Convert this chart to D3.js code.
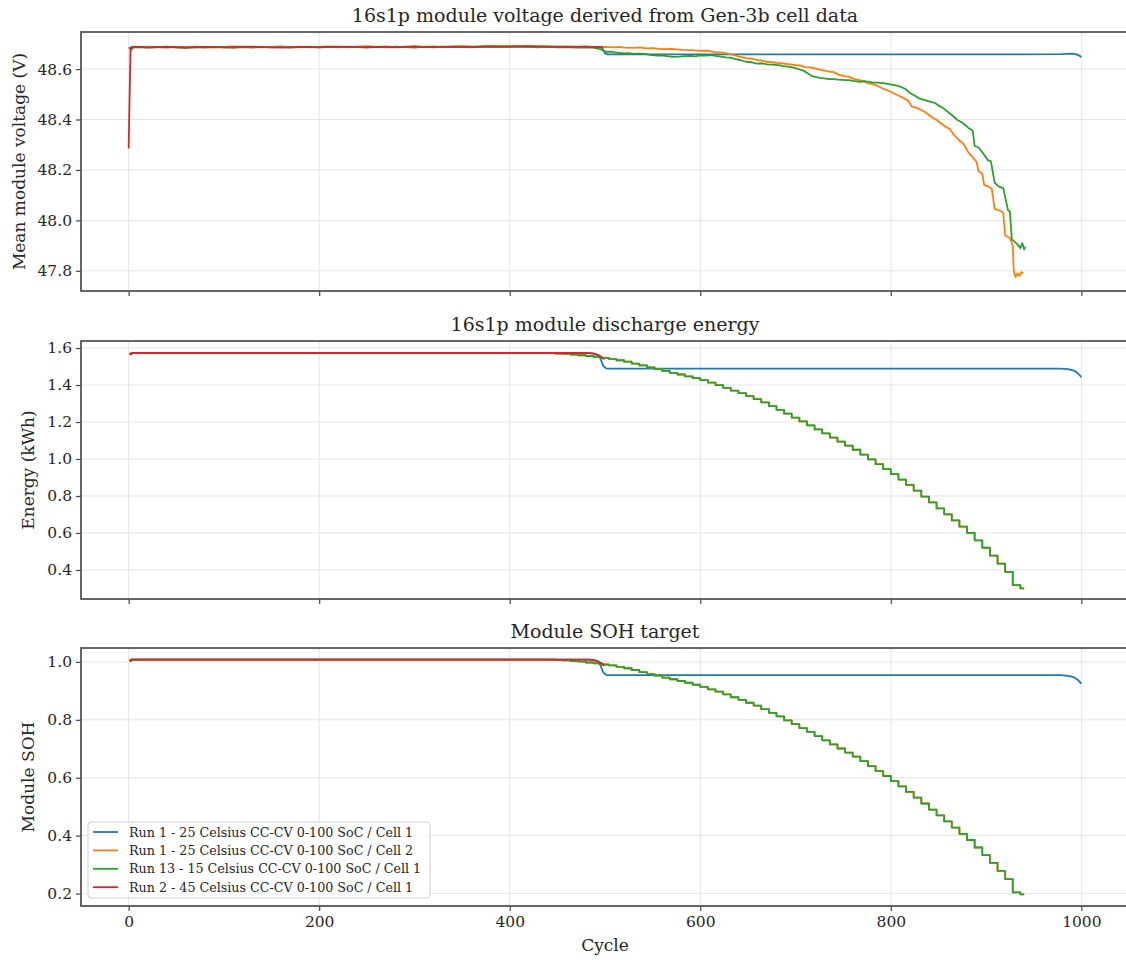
<!DOCTYPE html>
<html>
<head>
<meta charset="utf-8">
<script src="https://cdn.jsdelivr.net/npm/d3@7/dist/d3.min.js"></script>
<style>
  body { margin: 0; background: #fff; }
  svg text { font-family: "DejaVu Serif", serif; fill: #262626; }
</style>
</head>
<body>
<div id="chart"></div>
<script>
// legend names / colours (matplotlib tab10 order)
const seriesNames = [
  'Run 1 - 25 Celsius CC-CV 0-100 SoC / Cell 1',
  'Run 1 - 25 Celsius CC-CV 0-100 SoC / Cell 2',
  'Run 13 - 15 Celsius CC-CV 0-100 SoC / Cell 1',
  'Run 2 - 45 Celsius CC-CV 0-100 SoC / Cell 1'
];
const seriesColors = ['#1f77b4', '#ff7f0e', '#2ca02c', '#d62728'];

const xTicks = [0, 200, 400, 600, 800, 1000];
const voltTicks = [47.8, 48.0, 48.2, 48.4, 48.6];
const energyTicks = [0.4, 0.6, 0.8, 1.0, 1.2, 1.4, 1.6];
const sohTicks = [0.2, 0.4, 0.6, 0.8, 1.0];

// ---- panel 1: mean module voltage [cycle, V]
const voltBlue = [[0,48.682],[3,48.686],[100,48.687],[200,48.687],[300,48.688],[400,48.689],[490,48.688],
  [497,48.685],[500,48.662],[503,48.658],[700,48.658],[900,48.658],[980,48.659],[988,48.661],[994,48.659],
  [998,48.653],[1000,48.648]];

const voltOrange = [[2,48.676],[5,48.688],[10,48.686],[20,48.689],[30,48.687],[40,48.685],[50,48.688],[60,48.686],
  [70,48.689],[80,48.687],[90,48.685],[100,48.688],[110,48.690],[120,48.687],[130,48.689],[140,48.686],[150,48.688],
  [160,48.690],[170,48.687],[180,48.689],[190,48.686],[200,48.688],[210,48.690],[220,48.688],[230,48.686],[240,48.689],
  [250,48.691],[260,48.688],[270,48.690],[280,48.687],[290,48.689],[300,48.691],[310,48.688],[320,48.690],[330,48.687],
  [340,48.689],[350,48.691],[360,48.689],[370,48.690],[380,48.692],[390,48.690],[400,48.692],[410,48.690],[420,48.691],
  [430,48.689],[440,48.690],[450,48.688],[460,48.690],[470,48.688],[480,48.689],[490,48.687],[500,48.688],[510,48.686],
  [515,48.688],[520,48.685],[530,48.684],[537,48.686],[543,48.682],[550,48.683],[560,48.679],[570,48.680],[580,48.676],
  [590,48.675],[600,48.672],[607,48.673],[615,48.667],[622,48.666],[627,48.662],[634,48.657],[640,48.650],[648,48.643],
  [654,48.641],[660,48.635],[665,48.634],[670,48.628],[676,48.627],[682,48.624],[692,48.620],[700,48.616],[705,48.614],
  [710,48.608],[715,48.607],[720,48.603],[728,48.596],[735,48.590],[740,48.588],[745,48.578],[752,48.571],[756,48.570],
  [760,48.562],[768,48.555],[772,48.553],[776,48.543],[780,48.541],[785,48.535],[792,48.522],[798,48.513],[805,48.500],
  [812,48.488],[818,48.475],[822,48.452],[828,48.445],[836,48.430],[842,48.412],[848,48.398],[857,48.372],[862,48.362],
  [866,48.340],[871,48.320],[876,48.305],[881,48.272],[886,48.250],[890,48.232],[892,48.195],[896,48.185],[898,48.140],
  [902,48.135],[906,48.125],[909,48.045],[914,48.040],[918,48.030],[920,47.940],[925,47.930],[928,47.900],[929,47.800],
  [931,47.775],[933,47.790],[935,47.780],[937,47.795],[939,47.790]];

const voltGreen = [[2,48.674],[5,48.686],[10,48.688],[20,48.685],[30,48.687],[40,48.689],[50,48.686],[60,48.684],
  [70,48.687],[80,48.685],[90,48.688],[100,48.686],[110,48.684],[120,48.687],[130,48.685],[140,48.688],[150,48.686],
  [160,48.688],[170,48.685],[180,48.687],[190,48.689],[200,48.686],[210,48.688],[220,48.686],[230,48.689],[240,48.687],
  [250,48.685],[260,48.688],[270,48.686],[280,48.689],[290,48.687],[300,48.685],[310,48.688],[320,48.686],[330,48.689],
  [340,48.687],[350,48.688],[360,48.686],[370,48.689],[380,48.687],[390,48.689],[400,48.688],[410,48.690],[420,48.688],
  [430,48.686],[440,48.688],[450,48.686],[460,48.687],[470,48.685],[480,48.686],[487,48.685],[495,48.679],[501,48.668],
  [506,48.669],[510,48.666],[515,48.664],[520,48.662],[525,48.663],[530,48.660],[537,48.661],[543,48.659],[549,48.655],
  [555,48.653],[560,48.654],[565,48.651],[571,48.648],[578,48.649],[584,48.651],[590,48.652],[595,48.650],[600,48.654],
  [606,48.653],[612,48.655],[616,48.652],[620,48.650],[627,48.646],[631,48.645],[635,48.641],[642,48.636],[648,48.629],
  [654,48.627],[660,48.622],[665,48.623],[670,48.619],[676,48.618],[682,48.616],[687,48.612],[692,48.610],[698,48.606],
  [704,48.599],[708,48.594],[712,48.585],[717,48.572],[721,48.569],[725,48.565],[730,48.563],[735,48.560],[740,48.560],
  [745,48.558],[752,48.556],[756,48.556],[760,48.553],[768,48.549],[772,48.551],[776,48.550],[780,48.547],[785,48.546],
  [792,48.544],[798,48.540],[805,48.535],[810,48.530],[815,48.522],[820,48.505],[825,48.495],[829,48.485],[835,48.478],
  [842,48.470],[846,48.466],[850,48.456],[855,48.445],[860,48.430],[864,48.418],[870,48.398],[876,48.385],[882,48.365],
  [886,48.355],[888,48.295],[892,48.290],[897,48.265],[902,48.238],[905,48.235],[909,48.150],[913,48.135],[918,48.128],
  [923,48.040],[925,48.035],[927,47.925],[930,47.915],[933,47.905],[936,47.890],[938,47.910],[940,47.885],[941,47.895]];

const voltRed = [[0,48.285],[2,48.684],[4,48.689],[20,48.686],[40,48.688],[60,48.685],[80,48.688],[100,48.686],
  [120,48.689],[140,48.687],[160,48.685],[180,48.688],[200,48.686],[220,48.689],[240,48.687],[260,48.688],[280,48.686],
  [300,48.689],[320,48.687],[340,48.689],[360,48.688],[380,48.690],[400,48.689],[420,48.691],[440,48.689],[460,48.688],
  [480,48.689],[498,48.687]];

// ---- panel 2 + 3: smooth traces [cycle, value]
const energyBlue = [[1,1.566],[3,1.572],[486,1.572],[491,1.566],[495,1.545],[498,1.505],[501,1.490],[504,1.489],
  [978,1.489],[986,1.486],[992,1.478],[996,1.465],[1000,1.443]];
const energyRed = [[1,1.566],[3,1.573],[482,1.573],[488,1.570],[493,1.562],[497,1.550],[499,1.538]];
const sohBlue = [[1,1.004],[3,1.008],[486,1.008],[491,1.004],[495,0.990],[498,0.965],[501,0.955],[504,0.954],
  [978,0.954],[986,0.952],[992,0.947],[996,0.939],[1000,0.925]];
const sohRed = [[1,1.004],[3,1.008],[482,1.008],[488,1.006],[493,1.001],[497,0.994],[499,0.986]];

// ---- stepped trace of run 13 (orange run 1 / cell 2 lies under it)
const stepCycles = [1,3,440,448,456,464,472,480,488,496,504,512,520,528,536,544,552,560,568,576,584,592,600,608,
  616,624,632,640,648,656,664,672,680,688,696,704,712,720,728,736,744,752,760,768,776,784,792,800,808,816,824,832,
  840,848,856,864,872,880,888,896,904,912,920,928,936,940];
const energyGreenVals = [1.566,1.572,1.572,1.570,1.568,1.564,1.561,1.557,1.552,1.547,1.541,1.534,1.526,1.516,1.506,
  1.495,1.486,1.476,1.466,1.457,1.447,1.437,1.426,1.413,1.399,1.385,1.370,1.356,1.340,1.324,1.306,1.286,1.266,1.245,
  1.224,1.203,1.182,1.160,1.138,1.116,1.094,1.072,1.050,1.024,0.998,0.972,0.945,0.918,0.889,0.860,0.829,0.797,0.765,
  0.733,0.701,0.668,0.634,0.600,0.560,0.520,0.478,0.434,0.390,0.318,0.300,0.300];
const sohGreenVals = [1.004,1.008,1.008,1.006,1.005,1.003,1.001,0.998,0.995,0.991,0.988,0.983,0.978,0.972,0.965,
  0.958,0.953,0.946,0.940,0.934,0.928,0.921,0.914,0.905,0.897,0.888,0.878,0.869,0.859,0.849,0.837,0.824,0.812,0.798,
  0.785,0.771,0.758,0.744,0.729,0.715,0.701,0.687,0.673,0.657,0.640,0.623,0.606,0.588,0.570,0.551,0.531,0.511,0.490,
  0.470,0.449,0.428,0.406,0.385,0.359,0.333,0.306,0.278,0.250,0.204,0.197,0.197];

const energyGreen = stepCycles.map((c, i) => [c, energyGreenVals[i]]);
const sohGreen = stepCycles.map((c, i) => [c, sohGreenVals[i]]);
const energyOrange = energyGreen;
const sohOrange = sohGreen;

// ---- layout
const W = 1126, H = 960;
const left = 81, right = 1129;

const svg = d3.select('#chart').append('svg')
  .attr('width', W)
  .attr('height', H);

const x = d3.scaleLinear().domain([-50, 1050]).range([left, right]);

const panels = [
  { title: '16s1p module voltage derived from Gen-3b cell data', ylabel: 'Mean module voltage (V)',
    top: 32, bottom: 291, ydom: [47.72, 48.747], ticks: voltTicks, labelX: 25,
    series: [voltBlue, voltOrange, voltGreen, voltRed], stepped: [false, false, false, false] },
  { title: '16s1p module discharge energy', ylabel: 'Energy (kWh)',
    top: 341, bottom: 599, ydom: [0.243, 1.638], ticks: energyTicks, labelX: 34,
    series: [energyBlue, energyOrange, energyGreen, energyRed], stepped: [false, true, true, false] },
  { title: 'Module SOH target', ylabel: 'Module SOH',
    top: 648, bottom: 906, ydom: [0.157, 1.048], ticks: sohTicks, labelX: 34,
    series: [sohBlue, sohOrange, sohGreen, sohRed], stepped: [false, true, true, false] }
];

panels.forEach((p, i) => {
  const y = d3.scaleLinear().domain(p.ydom).range([p.bottom, p.top]);
  const g = svg.append('g');

  // grid
  g.append('g').selectAll('line').data(xTicks).enter().append('line')
    .attr('x1', d => x(d)).attr('x2', d => x(d))
    .attr('y1', p.top).attr('y2', p.bottom)
    .attr('stroke', '#e4e4e4').attr('stroke-width', 1);
  g.append('g').selectAll('line').data(p.ticks).enter().append('line')
    .attr('x1', left).attr('x2', right)
    .attr('y1', d => y(d)).attr('y2', d => y(d))
    .attr('stroke', '#e4e4e4').attr('stroke-width', 1);

  // clip
  svg.append('clipPath').attr('id', 'clip' + i)
    .append('rect').attr('x', left).attr('y', p.top)
    .attr('width', right - left).attr('height', p.bottom - p.top);

  const lines = g.append('g').attr('clip-path', `url(#clip${i})`);
  p.series.forEach((s, k) => {
    const line = d3.line()
      .x(d => x(d[0]))
      .y(d => y(d[1]))
      .curve(p.stepped[k] ? d3.curveStepAfter : d3.curveLinear);
    lines.append('path')
      .datum(s)
      .attr('fill', 'none')
      .attr('stroke', seriesColors[k])
      .attr('stroke-width', 1.8)
      .attr('stroke-linejoin', 'round')
      .attr('d', line);
  });

  // axes
  const yAxis = d3.axisLeft(y).tickValues(p.ticks).tickFormat(d3.format('.1f')).tickSize(5).tickPadding(4);
  const ya = g.append('g').attr('transform', `translate(${left},0)`).call(yAxis);
  const xAxis = d3.axisBottom(x).tickValues(xTicks).tickSize(5).tickPadding(5)
    .tickFormat(i === 2 ? d3.format('d') : '');
  const xa = g.append('g').attr('transform', `translate(0,${p.bottom})`).call(xAxis);
  [ya, xa].forEach(a => {
    a.select('.domain').remove();
    a.selectAll('.tick line').attr('stroke', '#444').attr('stroke-width', 1.2);
    a.selectAll('.tick text').style('font-family', '"DejaVu Serif", serif')
      .style('font-size', '15.5px').attr('fill', '#333');
  });

  // frame
  g.append('rect')
    .attr('x', left).attr('y', p.top)
    .attr('width', right - left).attr('height', p.bottom - p.top)
    .attr('fill', 'none').attr('stroke', '#555').attr('stroke-width', 1.8);

  // title and y label
  g.append('text')
    .attr('x', (left + right) / 2).attr('y', p.top - 10)
    .attr('text-anchor', 'middle').style('font-size', '19px')
    .text(p.title);
  g.append('text')
    .attr('transform', `translate(${p.labelX},${(p.top + p.bottom) / 2}) rotate(-90)`)
    .attr('text-anchor', 'middle').style('font-size', '17px')
    .text(p.ylabel);
});

// x label
svg.append('text')
  .attr('x', (left + right) / 2).attr('y', 951)
  .attr('text-anchor', 'middle').style('font-size', '17px')
  .text('Cycle');

// legend
const lg = svg.append('g').attr('transform', 'translate(88,822)');
lg.append('rect')
  .attr('width', 342).attr('height', 76).attr('rx', 3)
  .attr('fill', '#fff').attr('fill-opacity', 0.8)
  .attr('stroke', '#d0d0d0');
seriesNames.forEach((n, k) => {
  const row = lg.append('g').attr('transform', `translate(0,${10 + k * 18.4})`);
  row.append('line').attr('x1', 5).attr('x2', 30)
    .attr('stroke', seriesColors[k]).attr('stroke-width', 1.8);
  row.append('text').attr('x', 41).attr('y', 4.5)
    .style('font-size', '12.7px').text(n);
});
</script>
</body>
</html>
